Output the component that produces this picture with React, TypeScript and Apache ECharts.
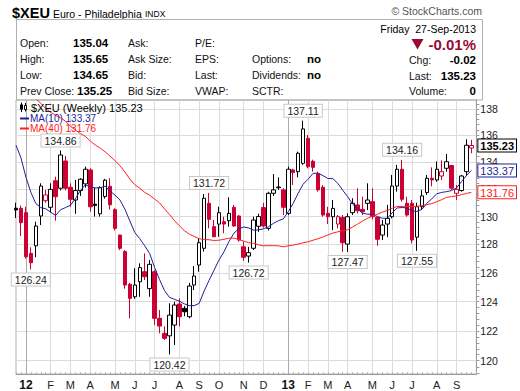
import React, { useEffect, useRef } from "react";
import * as echarts from "echarts";

// Weekly bars, each dated by the Monday of its week; first bar = week of 19-Dec-2011
const firstMondayUTC = Date.UTC(2011, 11, 19);
const emptyWeeksAfter = 1;

const opens = [
  130.6, 130.6, 130.28, 127.37, 127.91, 130.04, 131.15, 130.67, 132.61, 132.06,
  134.07, 132.13, 131.2, 131.89, 132.38, 133.41, 130.9, 130.2, 131.45, 132.2,
  130.5, 128.67, 127.5, 125.2, 124.34, 125.38, 126.08, 124.9, 126.08, 122.86,
  121.84, 121.67, 122.4, 123.84, 123.54, 122.97, 125.15, 126.55, 127.73, 130.96,
  129.27, 129.46, 129.63, 129.7, 130.67, 130.04, 127.84, 127.18, 127.73, 129.3,
  130.65, 129.15, 131.69, 132.1, 131.94, 130.23, 133.41, 133.28, 133.9, 135.77,
  134.05, 133.11, 132.13, 130.23, 129.99, 129.46, 129.94, 128.03, 130.28, 130.84,
  130.52, 130.96, 131.08, 129.94, 128.67, 129.46, 129.99, 132.22, 133.46, 130.96,
  130.96, 128.52, 130.71, 131.74, 132.79, 132.67, 132.96, 133.53, 133.74, 131.69,
  131.89, 133.28, 135.04,
];
const highs = [
  131.0, 130.8, 130.71, 127.8, 129.63, 132.42, 131.94, 132.42, 132.91, 134.86,
  134.45, 132.42, 132.67, 132.8, 133.65, 133.53, 132.1, 132.2, 132.75, 132.8,
  130.6, 128.7, 127.6, 125.3, 126.32, 126.67, 127.37, 126.9, 126.2, 123.43,
  122.31, 123.89, 124.0, 124.23, 123.7, 125.3, 126.48, 128.44, 131.64, 131.72,
  129.75, 130.71, 129.99, 131.4, 130.84, 130.11, 128.2, 127.84, 129.99, 130.2,
  131.0, 131.8, 133.1, 132.86, 132.06, 133.65, 133.5, 134.77, 137.11, 136.02,
  134.17, 133.28, 132.3, 130.71, 131.2, 130.11, 130.11, 130.23, 131.33, 132.06,
  131.44, 132.42, 132.06, 129.99, 129.75, 130.84, 133.04, 133.78, 134.16, 131.44,
  131.2, 131.0, 131.94, 133.04, 133.6, 134.05, 134.12, 134.59, 133.78, 132.3,
  133.04, 135.7, 135.65,
];
const lows = [
  129.9, 128.6, 127.0, 126.24, 127.1, 129.39, 131.0, 130.3, 129.7, 131.9,
  131.9, 130.71, 130.2, 131.5, 132.1, 130.35, 130.0, 130.0, 131.3, 130.5,
  129.0, 127.6, 124.9, 122.86, 124.2, 124.34, 125.5, 124.34, 122.4, 121.84,
  121.39, 120.42, 121.05, 122.31, 123.0, 122.86, 124.8, 126.08, 127.49, 129.15,
  128.52, 128.55, 128.8, 129.27, 129.27, 128.2, 126.85, 126.72, 127.61, 128.9,
  129.2, 129.0, 131.5, 131.94, 130.11, 130.11, 132.3, 132.86, 133.78, 133.53,
  133.28, 131.81, 129.99, 129.46, 129.03, 129.15, 127.49, 127.47, 130.11, 130.23,
  130.11, 130.47, 129.8, 127.91, 128.32, 128.52, 129.87, 131.81, 131.08, 129.99,
  128.08, 127.55, 130.47, 131.57, 132.2, 132.54, 132.67, 133.28, 131.94, 131.2,
  131.81, 132.96, 134.65,
];
const closes = [
  130.48, 129.56, 127.13, 126.71, 129.32, 132.22, 131.57, 131.98, 131.44, 134.52,
  132.06, 131.25, 131.89, 132.72, 133.46, 130.71, 130.8, 132.1, 132.65, 130.85,
  129.15, 127.73, 125.15, 124.23, 125.15, 126.37, 125.73, 126.6, 122.86, 122.33,
  121.5, 123.08, 123.77, 122.97, 123.31, 125.08, 125.78, 128.13, 131.33, 129.8,
  128.55, 130.28, 129.46, 130.23, 129.32, 128.32, 127.09, 127.42, 129.75, 130.0,
  129.32, 131.69, 131.94, 132.15, 130.67, 133.46, 133.21, 134.65, 136.48, 133.65,
  133.6, 131.94, 130.11, 129.99, 130.59, 129.99, 128.13, 129.99, 130.96, 130.42,
  130.35, 131.2, 129.99, 128.37, 129.39, 129.87, 132.22, 133.46, 131.25, 130.11,
  128.32, 130.71, 131.5, 132.79, 132.67, 133.46, 133.28, 134.02, 132.06, 131.98,
  132.96, 135.25, 135.23,
];
// Weekly closes before the visible window (needed for the moving averages)
const priorCloses = [
  140.93, 142.3, 144.79, 144.3, 145.67, 148.06, 143.11, 141.24, 141.58, 142.7,
  146.4, 143.47, 143.12, 141.85, 145.04, 142.57, 141.57, 143.66, 143.95, 142.78,
  142.36, 143.95, 144.97, 142.0, 136.52, 137.9, 135.0, 133.87, 133.75, 138.78,
  138.94, 141.44, 137.87, 137.5, 135.2, 132.4, 134.45, 133.83, 130.37,
];

const yTickLabels = [120, 122, 124, 126, 128, 130, 132, 134, 136, 138];
const monthLetters = ["J", "F", "M", "A", "M", "J", "J", "A", "S", "O", "N", "D"];
// [bar index, "H" = label the high above / "L" = label the low below]
const extremeLabels: [number, "H" | "L"][] = [
  [9, "H"], [3, "L"], [39, "H"], [31, "L"], [47, "L"], [58, "H"], [67, "L"], [78, "H"], [81, "L"],
];

const RED = "#cc0033";
const BLACK = "#000000";
const NAVY = "#1f1f99";
const MARED = "#ff2020";
const DARKRED = "#990a33";
const FONT = '"Liberation Sans", Arial, sans-serif';

const WEEK_MS = 7 * 24 * 3600 * 1000;
const categories: string[] = [];
for (let k = 0; k < closes.length + emptyWeeksAfter; k++) {
  categories.push(new Date(firstMondayUTC + k * WEEK_MS).toISOString().slice(0, 10));
}
const isMonthStart = (k: number) =>
  k > 0 && categories[k].slice(0, 7) !== categories[k - 1].slice(0, 7);

function movingAverage(n: number): (number | string)[] {
  const all = priorCloses.concat(closes);
  const off = priorCloses.length;
  return categories.map((_, k) => {
    if (k >= closes.length) return "-";
    const end = off + k;
    let s = 0;
    for (let j = end - n + 1; j <= end; j++) s += all[j];
    return s / n;
  });
}

function buildOption() {
  const ma10 = movingAverage(10);
  const ma40 = movingAverage(40);
  const last = closes.length - 1;
  const lastClose = closes[last];
  const prevClose = closes[last - 1];
  const ma10Last = ma10[last] as number;
  const ma40Last = ma40[last] as number;
  const chg = lastClose - prevClose;
  const pct = (chg / prevClose) * 100;

  const candleData = closes.map((c, k) => {
    const o = opens[k];
    const prev = k > 0 ? closes[k - 1] : priorCloses[priorCloses.length - 1];
    const stroke = c < prev ? RED : BLACK;
    const fill = c > o ? "#ffffff" : stroke;
    return {
      value: [o, c, lows[k], highs[k]],
      itemStyle: { color: fill, color0: fill, borderColor: stroke, borderColor0: stroke, borderWidth: 1 },
    };
  });

  const yearStarts = categories
    .map((_, k) => k)
    .filter((k) => isMonthStart(k) && categories[k].slice(5, 7) === "01");

  const minorTicks = Array.from({ length: 49 }, (_, j) => +(119.2 + 0.4 * j).toFixed(1));

  const hdrTxt = (text: string, x: number, y: number, opts: any = {}) => ({
    type: "text",
    x,
    y,
    silent: true,
    style: {
      text,
      fill: opts.fill || "#111",
      font: opts.font || `10.5px ${FONT}`,
      align: opts.align || "left",
      verticalAlign: "middle",
    },
  });
  const bold = `bold 11.5px ${FONT}`;
  const rows = [43, 59, 75, 90.5];

  const graphic: any[] = [
    hdrTxt("$XEU", 12, 13, { font: `bold 14.5px ${FONT}`, fill: "#000" }),
    hdrTxt("Euro - Philadelphia", 53, 13.5, { font: `10.5px ${FONT}`, fill: "#000" }),
    hdrTxt("INDX", 145, 14, { font: `8.5px ${FONT}`, fill: "#000" }),
    hdrTxt("\u00a9 StockCharts.com", 482, 10.5, { font: `10.5px ${FONT}`, fill: "#555", align: "right" }),
    {
      type: "rect",
      silent: true,
      shape: { x: 16.5, y: 19.5, width: 466, height: 80.5 },
      style: { fill: "none", stroke: "#b0b0b0", lineWidth: 1 },
    },
    hdrTxt("Friday  27-Sep-2013", 476, 28.5, { font: `10.5px ${FONT}`, fill: "#000", align: "right" }),
    {
      type: "polygon",
      silent: true,
      shape: { points: [[411.5, 39], [423.5, 39], [417.5, 49.5]] },
      style: { fill: DARKRED },
    },
    hdrTxt((pct >= 0 ? "+" : "") + pct.toFixed(2) + "%", 476, 44.5, {
      font: `bold 15px ${FONT}`,
      fill: DARKRED,
      align: "right",
    }),
    hdrTxt("Open:", 20, rows[0]),
    hdrTxt("High:", 20, rows[1]),
    hdrTxt("Low:", 20, rows[2]),
    hdrTxt("Prev Close:", 20, rows[3]),
    hdrTxt(opens[last].toFixed(2), 73, rows[0], { font: bold, fill: "#000" }),
    hdrTxt(highs[last].toFixed(2), 73, rows[1], { font: bold, fill: "#000" }),
    hdrTxt(lows[last].toFixed(2), 73, rows[2], { font: bold, fill: "#000" }),
    hdrTxt(prevClose.toFixed(2), 77, rows[3], { font: bold, fill: "#000" }),
    hdrTxt("Ask:", 128, rows[0]),
    hdrTxt("Ask Size:", 128, rows[1]),
    hdrTxt("Bid:", 128, rows[2]),
    hdrTxt("Bid Size:", 128, rows[3]),
    hdrTxt("P/E:", 195, rows[0]),
    hdrTxt("EPS:", 195, rows[1]),
    hdrTxt("Last:", 195, rows[2]),
    hdrTxt("VWAP:", 195, rows[3]),
    hdrTxt("Options:", 252, rows[1]),
    hdrTxt("Dividends:", 252, rows[2]),
    hdrTxt("SCTR:", 252, rows[3]),
    hdrTxt("no", 307, rows[1], { font: bold, fill: "#000" }),
    hdrTxt("no", 307, rows[2], { font: bold, fill: "#000" }),
    hdrTxt("Chg:", 409, rows[1] + 1),
    hdrTxt("Last:", 409, rows[2] + 0.5),
    hdrTxt("Volume:", 409, rows[3] + 0.5),
    hdrTxt(chg.toFixed(2), 476, rows[1] + 1, { font: bold, fill: "#000", align: "right" }),
    hdrTxt(lastClose.toFixed(2), 476, rows[2] + 0.5, { font: bold, fill: "#000", align: "right" }),
    hdrTxt("0", 476, rows[3] + 0.5, { font: bold, fill: "#000", align: "right" }),
    // in-plot legend
    { type: "line", silent: true, z: 10, shape: { x1: 21.5, y1: 102.5, x2: 21.5, y2: 112 }, style: { stroke: "#000", lineWidth: 1 } },
    { type: "rect", silent: true, z: 10, shape: { x: 20, y: 104.5, width: 3, height: 5 }, style: { fill: "#000" } },
    { type: "line", silent: true, z: 10, shape: { x1: 25.5, y1: 103, x2: 25.5, y2: 111.5 }, style: { stroke: "#000", lineWidth: 1 } },
    { type: "rect", silent: true, z: 10, shape: { x: 24.5, y: 105.5, width: 2, height: 4 }, style: { fill: "#fff", stroke: "#000", lineWidth: 1 } },
    {
      type: "text", silent: true, z: 10, x: 31, y: 107.5,
      style: { text: "$XEU (Weekly) " + lastClose.toFixed(2), fill: "#000", font: `11px ${FONT}`, verticalAlign: "middle" },
    },
    { type: "line", silent: true, z: 10, shape: { x1: 20, y1: 118.5, x2: 29, y2: 118.5 }, style: { stroke: NAVY, lineWidth: 2 } },
    {
      type: "text", silent: true, z: 10, x: 30, y: 118.5,
      style: { text: "MA(10) " + ma10Last.toFixed(2), fill: NAVY, font: `10px ${FONT}`, verticalAlign: "middle" },
    },
    { type: "line", silent: true, z: 10, shape: { x1: 20, y1: 128.5, x2: 29, y2: 128.5 }, style: { stroke: MARED, lineWidth: 2 } },
    {
      type: "text", silent: true, z: 10, x: 30, y: 128.5,
      style: { text: "MA(40) " + ma40Last.toFixed(2), fill: MARED, font: `10px ${FONT}`, verticalAlign: "middle" },
    },
  ];

  const tagStyle = (color: string, boldText: boolean) => ({
    color,
    fontWeight: boldText ? "bold" : "normal",
    fontSize: 11,
    fontFamily: FONT,
    backgroundColor: "#fff",
    borderColor: color,
    borderWidth: 1,
    padding: [1, 2, 0, 2],
  });

  return {
    animation: false,
    backgroundColor: "#ffffff",
    textStyle: { fontFamily: FONT },
    grid: {
      left: 16,
      right: 37.5,
      top: 100,
      bottom: 17,
      show: true,
      borderColor: "#b0b0b0",
      borderWidth: 1,
    },
    xAxis: {
      type: "category",
      data: categories,
      boundaryGap: false,
      axisLine: { show: true, lineStyle: { color: "#999" } },
      axisTick: { show: true, interval: 0, inside: true, length: 2, lineStyle: { color: "#bbb" } },
      axisLabel: {
        interval: (k: number) => isMonthStart(k),
        formatter: (v: string) => {
          const m = +v.slice(5, 7) - 1;
          return m === 0 ? "{y|" + v.slice(2, 4) + "}" : monthLetters[m];
        },
        color: "#222",
        fontSize: 11,
        margin: 5,
        rich: { y: { fontWeight: "bold", fontSize: 12, color: "#111" } },
      },
      splitLine: {
        show: true,
        interval: (k: number) => isMonthStart(k),
        lineStyle: { color: "#dcdcdc", width: 1 },
      },
    },
    yAxis: [
      {
        type: "log",
        logBase: 10,
        position: "right",
        min: 119.12,
        max: 138.69,
        axisLine: { show: true, lineStyle: { color: "#999" } },
        axisTick: { show: true, customValues: minorTicks, length: 3, lineStyle: { color: "#999" } },
        axisLabel: {
          customValues: yTickLabels,
          formatter: (v: number) => String(Math.round(v)),
          color: "#222",
          fontSize: 10.5,
          margin: 4,
        },
        splitLine: { show: false },
      },
      {
        type: "log",
        logBase: 10,
        position: "right",
        min: 119.12,
        max: 138.69,
        z: 5,
        axisLine: { show: false },
        axisTick: { show: false },
        splitLine: { show: false },
        axisLabel: {
          customValues: [lastClose, ma10Last, ma40Last],
          margin: 2,
          formatter: (v: number) => {
            if (Math.abs(v - lastClose) < 1e-6) return "{c|" + lastClose.toFixed(2) + "}";
            if (Math.abs(v - ma10Last) < 1e-6) return "{a|" + ma10Last.toFixed(2) + "}";
            return "{b|" + ma40Last.toFixed(2) + "}";
          },
          rich: { c: tagStyle("#000", true), a: tagStyle(NAVY, false), b: tagStyle(MARED, false) },
        },
      },
    ],
    graphic,
    series: [
      {
        type: "line",
        data: categories.map(() => "-"),
        silent: true,
        z: 1,
        markLine: {
          silent: true,
          z: 1,
          symbol: ["none", "none"],
          label: { show: false },
          data: [
            ...yTickLabels.map((v) => ({ yAxis: v, lineStyle: { color: "#dcdcdc", width: 1, type: "solid" } })),
            ...yearStarts.map((k) => ({ xAxis: categories[k], lineStyle: { color: "#aaaaaa", width: 1, type: "solid" } })),
          ],
        },
      },
      {
        type: "candlestick",
        data: candleData,
        barWidth: 4,
        clip: true,
        z: 2,
        markPoint: {
          symbol: "circle",
          symbolSize: 0,
          silent: true,
          data: extremeLabels.map(([k, kind]) => {
            const v = kind === "H" ? highs[k] : lows[k];
            return {
              coord: [categories[k], v],
              value: v,
              label: {
                show: true,
                position: kind === "H" ? "top" : "bottom",
                distance: 4,
                formatter: v.toFixed(2),
                color: "#222",
                fontSize: 10.5,
                fontFamily: FONT,
                backgroundColor: "#fff",
                borderColor: "#c8c8c8",
                borderWidth: 1,
                padding: [1, 3, 0, 3],
              },
            };
          }),
        },
      },
      {
        type: "line",
        data: ma10,
        symbol: "none",
        silent: true,
        z: 3,
        lineStyle: { color: NAVY, width: 1 },
      },
      {
        type: "line",
        data: ma40,
        symbol: "none",
        silent: true,
        z: 3,
        lineStyle: { color: MARED, width: 1 },
      },
    ],
  };
}

export default function App() {
  const ref = useRef<HTMLDivElement>(null);
  useEffect(() => {
    document.body.style.margin = "0";
    const chart = echarts.init(ref.current as HTMLDivElement, undefined, { renderer: "svg" });
    chart.setOption(buildOption() as any);
    return () => chart.dispose();
  }, []);
  return (
    <div
      ref={ref}
      style={{ position: "absolute", left: 0, top: 0, width: 520, height: 391, background: "#fff" }}
    />
  );
}
